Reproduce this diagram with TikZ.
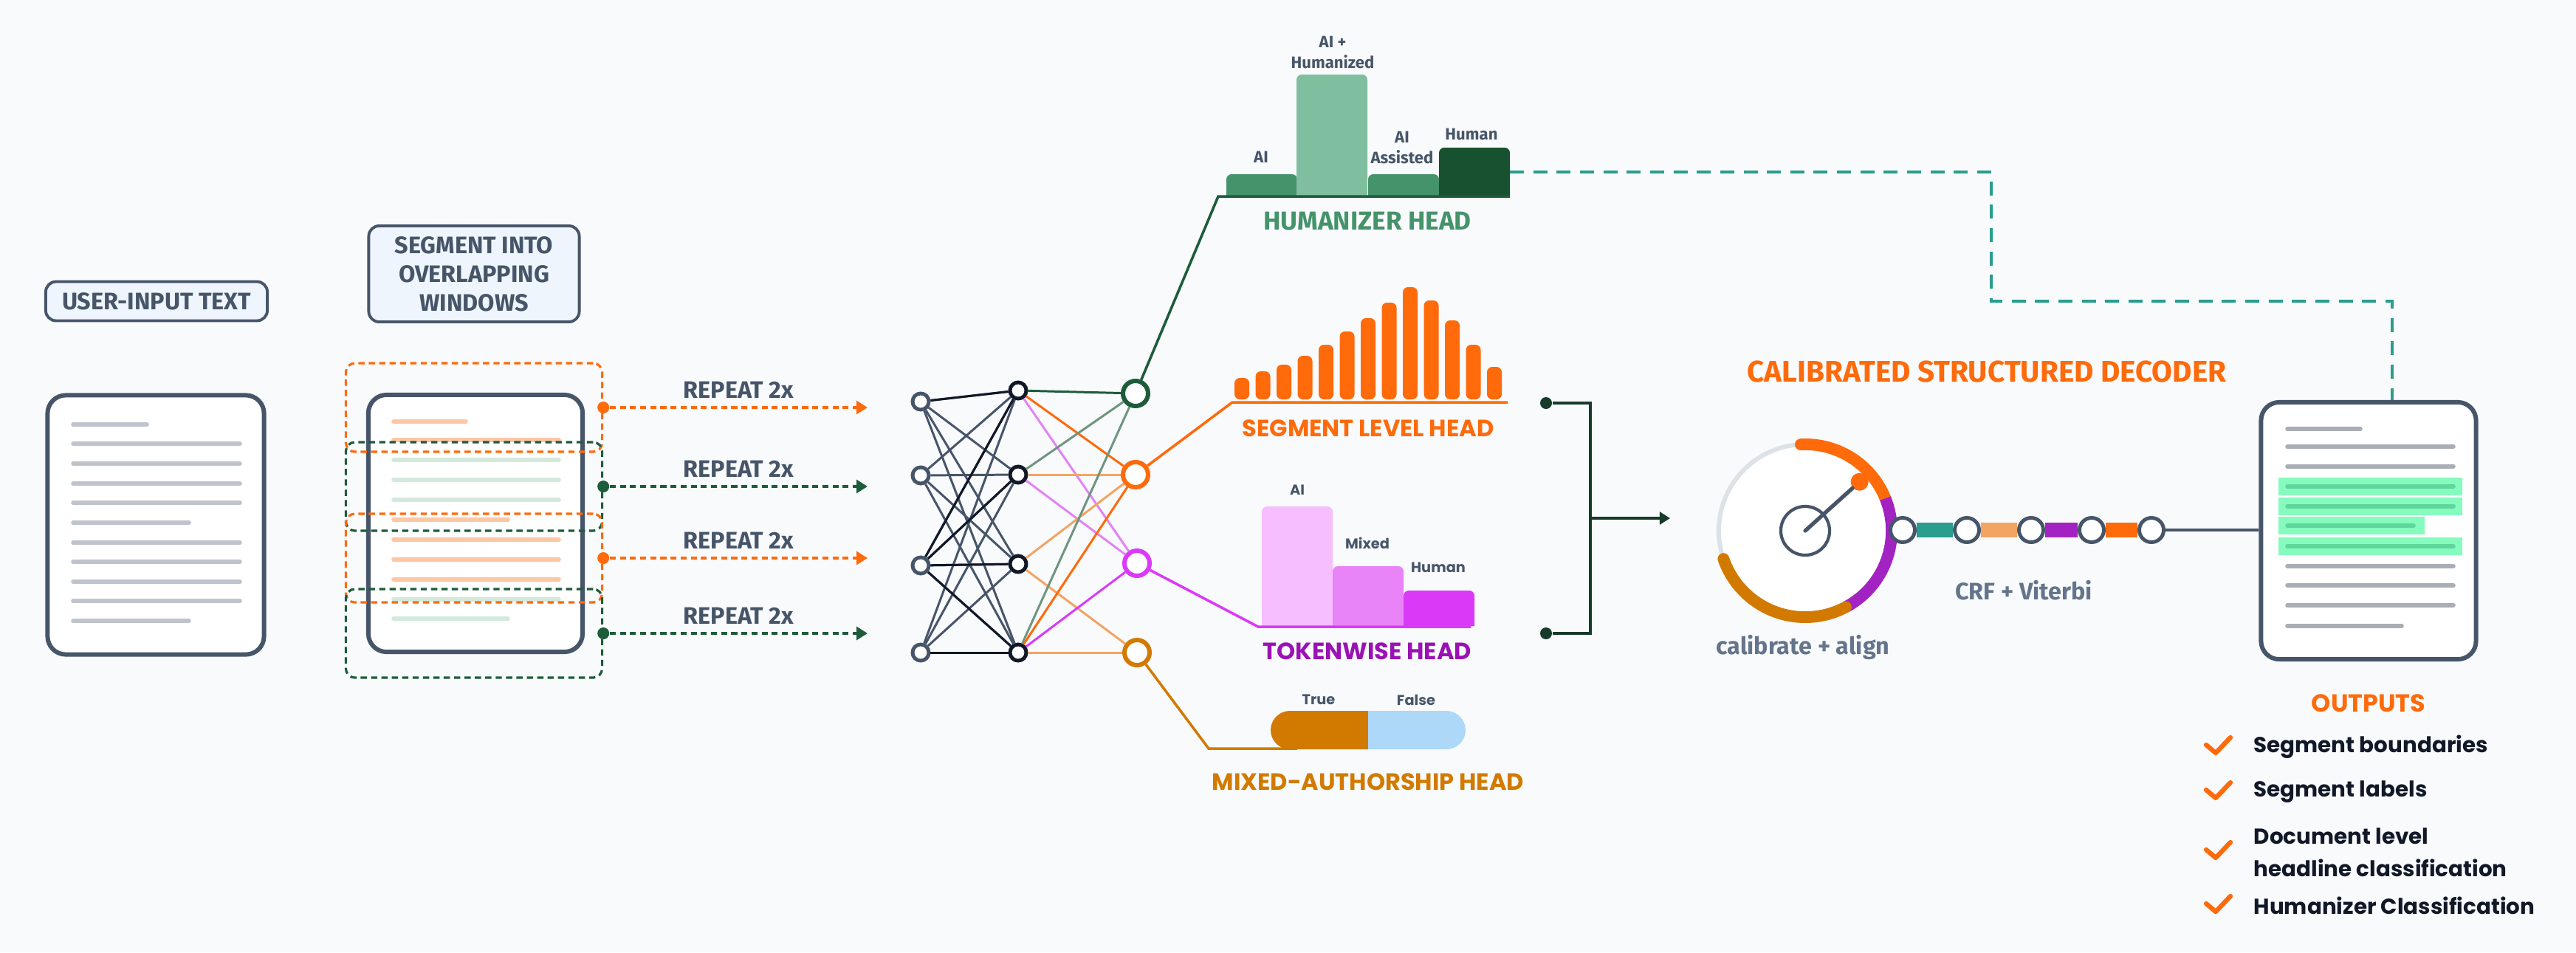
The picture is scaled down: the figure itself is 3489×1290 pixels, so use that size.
\documentclass[tikz,border=0pt]{standalone}
\usepackage{fontspec}
\setmainfont{Fira Sans}
\newfontfamily\widefont{Poppins}
\usetikzlibrary{
    arrows.meta,
    positioning,
    calc
}

\definecolor{canvas}{HTML}{F8FAFC}
\definecolor{slate}{HTML}{475569}
\definecolor{boxfill}{HTML}{EEF5FC}
\definecolor{docline}{HTML}{BFC4CC}
\definecolor{outline}{HTML}{A9AEB5}
\definecolor{peach}{HTML}{FDC6A4}
\definecolor{mint}{HTML}{D3E9DC}
\definecolor{flame}{HTML}{FF6A0B}
\definecolor{pine}{HTML}{1D5C3A}
\definecolor{netblack}{HTML}{111827}
\definecolor{humdark}{HTML}{17512F}
\definecolor{hummid}{HTML}{45936A}
\definecolor{humlight}{HTML}{7FBF9F}
\definecolor{sage}{HTML}{6F9580}
\definecolor{apricot}{HTML}{F4A462}
\definecolor{lilac}{HTML}{E383F5}
\definecolor{fuchsia}{HTML}{DA3AF7}
\definecolor{pinkbar}{HTML}{F6BEFC}
\definecolor{orchid}{HTML}{E883F8}
\definecolor{plum}{HTML}{9A12B3}
\definecolor{grape}{HTML}{A223C2}
\definecolor{amber}{HTML}{D27A00}
\definecolor{sky}{HTML}{ADD8F7}
\definecolor{seagreen}{HTML}{2A9D8F}
\definecolor{ringgrey}{HTML}{DDE2E6}
\definecolor{navy}{HTML}{111827}
\definecolor{mutedslate}{HTML}{64748B}
\definecolor{bracketgreen}{HTML}{183A2B}
\definecolor{hlfill}{HTML}{86FBBE}
\definecolor{hlline}{HTML}{60D59C}

\tikzset{
    % --- Step title box (light blue, rounded) ---
    title box/.style = {
        rectangle, draw=slate, line width=1.1pt, fill=boxfill,
        rounded corners=4pt, align=center, text=slate, inner sep=0pt,
        font=\bfseries\fontsize{9.2}{11.1}\selectfont
    },
    % --- Document card ---
    doc card/.style = {
        rectangle, draw=slate, line width=1.7pt, fill=white,
        rounded corners=7pt, inner sep=0pt
    },
    % --- Text line inside a card ---
    text line/.style = {
        line width=1.6pt, line cap=round, #1
    },
    % --- Overlapping window (dashed) ---
    window frame/.style = {
        rectangle, draw=#1, line width=0.9pt,
        dash pattern=on 2.4pt off 1.6pt, rounded corners=3.5pt,
        minimum width=3.47cm, minimum height=1.2cm, inner sep=0pt
    },
    % --- Window output dot ---
    port dot/.style = {
        circle, fill=#1, minimum size=0.16cm, inner sep=0pt
    },
    % --- Dotted repeat arrow ---
    repeat arrow/.style = {
        draw=#1, line width=1.1pt, dash pattern=on 2.3pt off 1.6pt,
        -{Triangle[length=4.2pt, width=5pt]}
    },
    % --- Label over a repeat arrow ---
    repeat label/.style = {
        font=\bfseries\fontsize{9.2}{11}\selectfont, text=slate, inner sep=0pt
    },
    % --- Network neurons and edges ---
    neuron/.style = {
        circle, draw=#1, line width=1.4pt, fill=white,
        minimum size=0.22cm, inner sep=0pt
    },
    head neuron/.style = {
        circle, draw=#1, line width=1.7pt, fill=white,
        minimum size=0.34cm, inner sep=0pt
    },
    net edge/.style = {draw=#1, line width=0.85pt},
    % --- Lead from a head neuron to its chart ---
    head lead/.style = {draw=#1, line width=1pt},
    % --- Chart labels and head titles ---
    bar label/.style = {
        font=\bfseries\fontsize{6.3}{7.7}\selectfont, text=slate,
        align=center, inner sep=0pt
    },
    wide label/.style = {
        font=\widefont\bfseries\fontsize{5.5}{6.5}\selectfont,
        text=slate, inner sep=0pt
    },
    head title/.style = {
        font=\widefont\bfseries\fontsize{9.1}{11}\selectfont,
        text=#1, inner sep=0pt
    },
    % --- Decoder parts ---
    dial ring/.style = {
        circle, draw=ringgrey, line width=1.7pt, fill=white,
        minimum size=2.34cm, inner sep=0pt
    },
    gauge arc/.style = {draw=#1, line width=4.5pt},
    chain link/.style = {
        circle, draw=slate, line width=1.4pt, fill=white,
        minimum size=0.33cm, inner sep=0pt
    },
    chain bar/.style = {draw=#1, line width=5.7pt},
    step note/.style = {
        font=\bfseries\fontsize{9.2}{11}\selectfont, text=mutedslate, inner sep=0pt
    },
    join dot/.style = {
        circle, fill=bracketgreen, minimum size=0.16cm, inner sep=0pt
    },
    bracket/.style = {draw=bracketgreen, line width=0.9pt},
    sync line/.style = {
        draw=seagreen, line width=1.4pt, dash pattern=on 5.4pt off 3.6pt
    },
    % --- Output list ---
    check mark/.style = {
        draw=flame, line width=1.8pt, line cap=round, line join=round
    },
    out item/.style = {
        font=\widefont\bfseries\fontsize{8.35}{12.5}\selectfont,
        text=navy, anchor=west, align=left, inner sep=0pt
    }
}

\begin{document}
\begin{tikzpicture}[x=0.01cm, y=0.01cm]

% canvas in reference pixels (rows are negative y)
\fill[canvas] (0,0) rectangle (3489,-1290);
\useasboundingbox (0,0) rectangle (3489,-1290);

% ---------------------------------------------------------
% Input text and overlapping windows
% ---------------------------------------------------------
\node[title box, minimum width=3cm, minimum height=0.53cm] (userbox) at (212,-408) {USER-INPUT TEXT};
\node[title box, minimum width=2.85cm, minimum height=1.3cm] (segbox) at (642,-371) {SEGMENT INTO\\OVERLAPPING\\WINDOWS};

\node[doc card, minimum width=2.93cm, minimum height=3.51cm] (userdoc) at (211,-711) {};
\foreach \y/\len in {575/100, 601/226, 628/226, 655/226, 681/226, 708/157, 735/226, 761/226, 788/226, 814/226, 841/157}
    \draw[text line=docline] (99,-\y) -- ++(\len,0);

\node[doc card, minimum width=2.9cm, minimum height=3.48cm] (segdoc) at (644,-709) {};
\foreach \y/\len/\c in {571/98/peach, 596/224/peach, 623/224/mint, 650/224/mint, 677/224/mint, 704/155/peach, 731/224/peach, 758/224/peach, 785/224/peach, 812/224/mint, 838/155/mint}
    \draw[text line=\c] (533,-\y) -- ++(\len,0);

\foreach \i/\y/\c in {1/552/flame, 2/659/pine, 3/756/flame, 4/858/pine} {
    \node[window frame=\c] (win\i) at (642,-\y) {};
    \node[port dot=\c] (port\i) at (win\i.east) {};
    \coordinate (feed\i) at (1175,-\y);
    \draw[repeat arrow=\c] (port\i) -- (feed\i)
        node[repeat label, midway, above=3pt] (rep\i) {REPEAT 2x};
}

% ---------------------------------------------------------
% Shared network and the four heads
% ---------------------------------------------------------
\foreach \i/\y in {1/544, 2/644, 3/766, 4/884}
    \node[neuron=slate] (in\i) at (1247,-\y) {};
\foreach \i/\y in {1/529, 2/643, 3/764, 4/884}
    \node[neuron=netblack] (hid\i) at (1379,-\y) {};
\node[head neuron=pine] (hhum) at (1538,-533) {};
\node[head neuron=flame] (hseg) at (1538,-643) {};
\node[head neuron=fuchsia] (htok) at (1540,-763) {};
\node[head neuron=amber] (hmix) at (1540,-884) {};

\foreach \i in {1,...,4}
    \foreach \j in {1,...,4}
        \draw[net edge=slate] (in\i) -- (hid\j);
\foreach \i/\j in {1/1, 3/1, 3/2, 3/3, 3/4, 4/4}
    \draw[net edge=netblack] (in\i) -- (hid\j);
\foreach \j/\h/\c in {1/hhum/pine, 1/hseg/flame, 1/htok/lilac, 2/hhum/sage, 2/hseg/apricot, 2/htok/lilac,
                      3/hseg/apricot, 3/hmix/apricot, 4/hhum/sage, 4/hseg/flame, 4/htok/fuchsia, 4/hmix/apricot}
    \draw[net edge=\c] (hid\j) -- (\h);

% Humanizer head
\foreach \x/\top/\c in {1661/236/hummid, 1756/101/humlight, 1853/236/hummid, 1949/200/humdark}
    \fill[\c] (\x,-265) [rounded corners=2pt] -- (\x,-\top) -- ++(96,0) [sharp corners] -- (\x+96,-265) -- cycle;
\coordinate (humbase) at (1650,-266);
\draw[head lead=pine] (hhum) -- (humbase) -- ++(395,0);
\node[bar label] (lblai) at (1708,-213) {AI};
\node[bar label] (lblaih) at (1805,-71) {AI +\\Humanized};
\node[bar label] (lblass) at (1899,-200) {AI\\Assisted};
\node[bar label] (lblhum) at (1993,-182) {Human};
\node[font=\bfseries\fontsize{10}{12}\selectfont, text=hummid, inner sep=0pt] (humtitle) at (1852,-300) {HUMANIZER HEAD};

% Segment level head
\foreach \k/\top in {0/512, 1/503, 2/494, 3/482, 4/467, 5/449, 6/431, 7/410, 8/389, 9/407, 10/434, 11/467, 12/497}
    \fill[flame, rounded corners=2pt] (1672+28.5*\k,-541) rectangle ++(20,-\top+541);
\coordinate (segbase) at (1669,-545);
\draw[head lead=flame] (hseg) -- (segbase) -- ++(373,0);
\node[head title=flame] (segtitle) at (1853,-580) {SEGMENT LEVEL HEAD};

% Tokenwise head
\foreach \x/\top/\c in {1709/686/pinkbar, 1805/767/orchid, 1901/800/fuchsia}
    \fill[\c] (\x,-848) [rounded corners=2pt] -- (\x,-\top) -- ++(96,0) [sharp corners] -- (\x+96,-848) -- cycle;
\coordinate (tokbase) at (1704,-849);
\draw[head lead=fuchsia] (htok) -- (tokbase) -- ++(288,0);
\node[wide label] (lbltai) at (1757,-664) {AI};
\node[wide label] (lbltmix) at (1852,-736) {Mixed};
\node[wide label] (lblthum) at (1948,-769) {Human};
\node[head title=plum] (toktitle) at (1852,-882) {TOKENWISE HEAD};

% Mixed-authorship head
\coordinate (mixbase) at (1637,-1014);
\draw[head lead=amber] (hmix) -- (mixbase) -- ++(120,0);
\fill[amber] (1853,-963) -- (1747,-963) arc[start angle=90, end angle=270, radius=26] -- (1853,-1015) -- cycle;
\fill[sky] (1853,-963) -- (1959,-963) arc[start angle=90, end angle=-90, radius=26] -- (1853,-1015) -- cycle;
\node[wide label] (lbltrue) at (1786,-948) {True};
\node[wide label] (lblfalse) at (1918,-948) {False};
\node[head title=amber] (mixtitle) at (1853,-1059) {MIXED-AUTHORSHIP HEAD};

% ---------------------------------------------------------
% Calibrated structured decoder
% ---------------------------------------------------------
\node[join dot] (segjoin) at (2094,-546) {};
\node[join dot] (tokjoin) at (2094,-858) {};
\coordinate (merge) at (2154,-702);
\coordinate (decin) at (2262,-702);
\draw[bracket] (segjoin) -| (merge) |- (tokjoin);
\draw[bracket, -{Triangle[length=4pt, width=4.8pt]}] (merge) -- (decin);

\node[font=\bfseries\fontsize{11.5}{13}\selectfont, text=flame, inner sep=0pt] (dectitle) at (2691,-503) {CALIBRATED STRUCTURED DECODER};

\node[dial ring] (dial) at (2445,-719) {};
\draw[gauge arc=flame, line cap=round] ([shift={(93:1.17cm)}]dial.center) arc[start angle=93, end angle=22, radius=1.17cm];
\draw[gauge arc=grape] ([shift={(22:1.17cm)}]dial.center) arc[start angle=22, end angle=-62, radius=1.17cm];
\draw[gauge arc=amber, line cap=round] ([shift={(-62:1.17cm)}]dial.center) arc[start angle=-62, end angle=-161, radius=1.17cm];
\node[circle, draw=slate, line width=1.2pt, minimum size=0.66cm, inner sep=0pt] (hub) at (dial.center) {};
\node[circle, fill=flame, minimum size=0.24cm, inner sep=0pt] (knob) at ($(dial.center)+(42:0.99cm)$) {};
\draw[slate, line width=1.5pt, line cap=round] (dial.center) -- (knob);
\node[step note] (calnote) at (2442,-877) {calibrate + align};

\foreach \i/\x in {1/2577, 2/2664, 3/2751, 4/2833, 5/2914}
    \node[chain link] (link\i) at (\x,-718) {};
\foreach \i/\j/\c in {1/2/seagreen, 2/3/apricot, 3/4/grape, 4/5/flame}
    \draw[chain bar=\c] (link\i) -- (link\j);
\node[step note] (crfnote) at (2741,-800) {CRF + Viterbi};

% ---------------------------------------------------------
% Output document and list
% ---------------------------------------------------------
\node[doc card, minimum width=2.91cm, minimum height=3.48cm] (outdoc) at (3208,-719) {};
\draw[slate, line width=1.4pt] (link5) -- (link5 -| outdoc.west);
\foreach \y/\w in {659/249, 686/249, 712/198, 740/249}
    \fill[hlfill] (3086,-\y+12) rectangle ++(\w,-24);
\foreach \y/\len/\c in {581/99/outline, 605/225/outline, 632/225/outline, 659/225/hlline, 686/225/hlline, 712/171/hlline,
                        740/225/hlline, 767/225/outline, 793/225/outline, 820/225/outline, 848/155/outline}
    \draw[text line=\c] (3098,-\y) -- ++(\len,0);

% humanizer result goes straight to the output
\coordinate (humout) at (2045,-233);
\coordinate (syncturn) at (2697,-408);
\coordinate (syncdrop) at (3240,-408);
\draw[sync line] (humout) -| (syncturn) -- (syncdrop) -- (syncdrop |- outdoc.north);

\node[head title=flame, font=\widefont\bfseries\fontsize{9.5}{11}\selectfont] (outtitle) at (3208,-953) {OUTPUTS};
\foreach \y in {1009, 1070, 1151, 1224}
    \draw[check mark] (2988,-\y) -- ++(13,-11) -- ++(20,21);
\node[out item] (out1) at (3052,-1012) {Segment boundaries};
\node[out item] (out2) at (3052,-1073) {Segment labels};
\node[out item] (out3) at (3052,-1155) {Document level\\headline classification};
\node[out item] (out4) at (3052,-1227) {Humanizer Classification};

\end{tikzpicture}
\end{document}
